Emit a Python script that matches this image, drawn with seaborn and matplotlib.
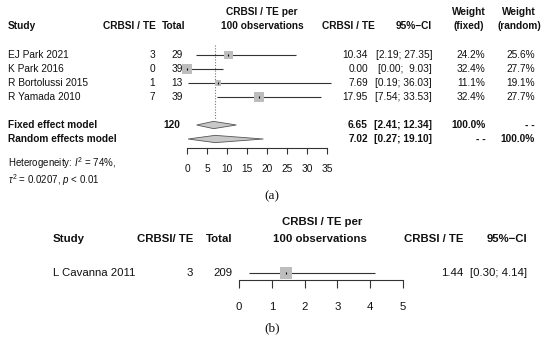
"""
Forest plots of CRBSI / TE per 100 observations, panels (a) and (b)
"""

import numpy as np
import matplotlib.pyplot as plt
import seaborn as sns

# panel (a): four studies pooled
studies_a = ["EJ Park 2021", "K Park 2016", "R Bortolussi 2015", "R Yamada 2010"]
events_a = [3, 0, 1, 7]
totals_a = [29, 39, 13, 39]
rate_a = [10.34, 0.00, 7.69, 17.95]
lower_a = [2.19, 0.00, 0.19, 7.54]
upper_a = [27.35, 9.03, 36.03, 33.53]
weight_fixed = [24.2, 32.4, 11.1, 32.4]
weight_random = [25.6, 27.7, 19.1, 27.7]
pooled_names = ["Fixed effect model", "Random effects model"]
pooled_est = [6.65, 7.02]
pooled_lower = [2.41, 0.27]
pooled_upper = [12.34, 19.10]
pooled_total = 120
ticks_a = [0, 5, 10, 15, 20, 25, 30, 35]

# panel (b): single study
studies_b = ["L Cavanna 2011"]
events_b = [3]
totals_b = [209]
rate_b = [1.44]
lower_b = [0.30]
upper_b = [4.14]
ticks_b = [0, 1, 2, 3, 4, 5]

W, H = 550, 340
ROW_PX = 14

sns.set_style("ticks")
plt.rcParams["font.family"] = ["Liberation Sans", "DejaVu Sans"]
plt.rcParams["mathtext.fontset"] = "custom"
plt.rcParams["mathtext.rm"] = "Liberation Sans"
plt.rcParams["mathtext.it"] = "Liberation Sans:italic"

fig = plt.figure(figsize=(W / 100, H / 100), dpi=100)

# text layer in pixel coordinates
tx = fig.add_axes([0, 0, 1, 1])
tx.set_xlim(0, W)
tx.set_ylim(H, 0)
tx.axis("off")


def put(x, y, s, ha="left", size=7.3, bold=False, **kw):
    tx.text(x, y, s, ha=ha, va="center", fontsize=size,
            fontweight="bold" if bold else "normal", color="#111111", **kw)


def forest_axes(x0, x1, y_top, y_axis, y_row0, xmax, ticks, size, tick_len, pad):
    ax = fig.add_axes([x0 / W, 1 - y_axis / H, (x1 - x0) / W, (y_axis - y_top) / H])
    ax.set_xlim(0, xmax)
    ax.set_ylim((y_axis - y_row0) / ROW_PX, (y_top - y_row0) / ROW_PX)
    ax.patch.set_alpha(0)
    sns.despine(ax=ax, left=True)
    ax.set_yticks([])
    ax.set_xticks(ticks)
    ax.spines["bottom"].set_bounds(ticks[0], ticks[-1])
    ax.spines["bottom"].set_color("#333333")
    ax.spines["bottom"].set_linewidth(0.8)
    ax.tick_params(axis="x", length=tick_len, width=0.8, color="#333333",
                   labelsize=size, pad=pad, labelcolor="#111111")
    return ax


def draw_studies(ax, est, lo, hi, areas):
    rows = np.arange(len(est))
    ax.hlines(rows, lo, hi, color="#333333", lw=0.8, clip_on=False, zorder=1)
    sns.scatterplot(x=est, y=rows, marker="s", s=areas, color="#bdbdbd",
                    edgecolor="none", linewidth=0, ax=ax, clip_on=False,
                    zorder=2, legend=False)
    ax.scatter(est, rows, marker="|", s=4, color="black", lw=0.8,
               clip_on=False, zorder=3)


def draw_diamond(ax, row, est, lo, hi, h=0.26):
    ax.fill([lo, est, hi, est], [row, row - h, row, row + h],
            facecolor="#c8c8c8", edgecolor="#555555", lw=0.6, clip_on=False, zorder=2)


# ---------------- panel (a) ----------------
ax_a = forest_axes(187, 327, 40, 148, 55, 35, ticks_a, 7.3, 4.3, 7)
draw_studies(ax_a, rate_a, lower_a, upper_a, [1.64 * w for w in weight_fixed])
first_pooled = len(studies_a) + 1
for i, (e, lo, hi) in enumerate(zip(pooled_est, pooled_lower, pooled_upper)):
    draw_diamond(ax_a, first_pooled + i, e, lo, hi)
ax_a.vlines(pooled_est[1], -0.72, 4.6, color="#777777", lw=0.8,
            linestyles=(0, (1, 1.5)), zorder=0)

hy = 26
put(8, hy, "Study", bold=True)
put(156, hy, "CRBSI / TE", ha="right", bold=True)
put(185, hy, "Total", ha="right", bold=True)
put(262, 12, "CRBSI / TE per", ha="center", bold=True)
put(262, hy, "100 observations", ha="center", bold=True)
put(375, hy, "CRBSI / TE", ha="right", bold=True)
put(432, hy, "95%\u2212CI", ha="right", bold=True)
put(469, 12, "Weight", ha="center", bold=True)
put(469, hy, "(fixed)", ha="center", bold=True)
put(519, 12, "Weight", ha="center", bold=True)
put(519, hy, "(random)", ha="center", bold=True)

for i, name in enumerate(studies_a):
    y = 55 + ROW_PX * i
    put(8, y, name)
    put(155, y, str(events_a[i]), ha="right")
    put(183, y, str(totals_a[i]), ha="right")
    put(368, y, f"{rate_a[i]:.2f}", ha="right")
    put(432, y, f"[{lower_a[i]:.2f}; {upper_a[i]:5.2f}]", ha="right")
    put(485, y, f"{weight_fixed[i]:.1f}%", ha="right")
    put(535, y, f"{weight_random[i]:.1f}%", ha="right")

for i, name in enumerate(pooled_names):
    y = 55 + ROW_PX * (first_pooled + i)
    put(8, y, name, bold=True)
    put(368, y, f"{pooled_est[i]:.2f}", ha="right", bold=True)
    put(432, y, f"[{pooled_lower[i]:.2f}; {pooled_upper[i]:5.2f}]", ha="right", bold=True)
    put(486, y, "100.0%" if i == 0 else "- -", ha="right", bold=True)
    put(535, y, "- -" if i == 0 else "100.0%", ha="right", bold=True)
put(180, 55 + ROW_PX * first_pooled, str(pooled_total), ha="right", bold=True)

put(8, 163, r"Heterogeneity: $\mathit{I}^2$ = 74%,", size=7)
put(8, 180, r"$\mathit{\tau}^2$ = 0.0207, $\mathit{p}$ < 0.01", size=7)
tx.text(272, 196, "(a)", ha="center", va="center", fontsize=9.5,
        family="Liberation Serif", color="#111111")

# ---------------- panel (b) ----------------
ax_b = forest_axes(239, 403, 262, 280, 273, 5, ticks_b, 8.2, 5.8, 10)
draw_studies(ax_b, rate_b, lower_b, upper_b, [75])

put(322, 222, "CRBSI / TE per", ha="center", size=8.2, bold=True)
put(320, 239, "100 observations", ha="center", size=8.2, bold=True)
put(53, 239, "Study", size=8.2, bold=True)
put(193, 239, "CRBSI/ TE", ha="right", size=8.2, bold=True)
put(233, 239, "Total", ha="right", size=8.2, bold=True)
put(463, 239, "CRBSI / TE", ha="right", size=8.2, bold=True)
put(527, 239, "95%\u2212CI", ha="right", size=8.2, bold=True)

for i, name in enumerate(studies_b):
    y = 273 + ROW_PX * i
    put(53, y, name, size=8.2)
    put(193, y, str(events_b[i]), ha="right", size=8.2)
    put(233, y, str(totals_b[i]), ha="right", size=8.2)
    put(463, y, f"{rate_b[i]:.2f}", ha="right", size=8.2)
    put(527, y, f"[{lower_b[i]:.2f}; {upper_b[i]:.2f}]", ha="right", size=8.2)

tx.text(272, 328, "(b)", ha="center", va="center", fontsize=9.5,
        family="Liberation Serif", color="#111111")

fig.savefig("out.png", dpi=100)
